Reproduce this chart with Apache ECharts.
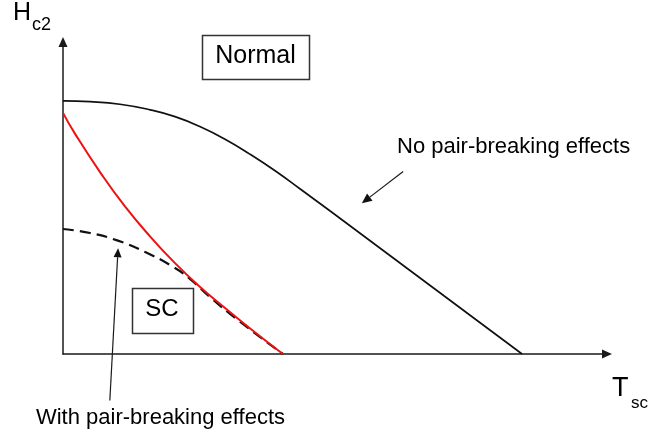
<!DOCTYPE html>
<html>
<head>
<meta charset="utf-8">
<script src="https://cdn.jsdelivr.net/npm/echarts@6/dist/echarts.min.js"></script>
<style>
  html, body { margin: 0; padding: 0; background: #ffffff; }
  #chart { width: 651px; height: 437px; }
</style>
</head>
<body>
<div id="chart"></div>
<script>
// Reduced temperature T / Tc0 and reduced upper critical field Hc2 / Hc2(0)
const noPairBreakingT = [0, 0.059, 0.124, 0.190, 0.244, 0.298, 0.353, 0.407, 0.462, 0.516, 0.582, 1.0];
const noPairBreakingH = [1.0, 0.997, 0.987, 0.965, 0.938, 0.899, 0.849, 0.790, 0.724, 0.653, 0.565, 0];

const pairBreakingT = [0, 0.026, 0.081, 0.135, 0.190, 0.244, 0.298, 0.353, 0.407, 0.479];
const pairBreakingH = [0.953, 0.871, 0.718, 0.583, 0.464, 0.359, 0.266, 0.182, 0.102, 0];

const reducedT = [0, 0.059, 0.118, 0.179, 0.240, 0.277, 0.320, 0.381, 0.479];
const reducedH = [0.494, 0.478, 0.449, 0.403, 0.344, 0.296, 0.225, 0.134, 0];

// Axis extents (the arrow heads sit past these)
const xMax = 1.185;
const yMax = 1.233;

// Annotation arrows, given as [from, to] in (T, H)
const arrowNoPair = [[0.741, 0.721], [0.651, 0.596]];
const arrowWithPair = [[0.102, -0.184], [0.120, 0.418]];

const zip = (xs, ys) => xs.map((x, i) => [x, ys[i]]);

const FONT = '"Liberation Sans", Arial, sans-serif';
const chart = echarts.init(document.getElementById('chart'), null, { renderer: 'canvas' });

const axisCommon = {
  type: 'value',
  min: 0,
  axisLine: {
    show: true,
    symbol: ['none', 'triangle'],
    symbolSize: [9, 10],
    lineStyle: { color: '#1a1a1a', width: 1.5 }
  },
  axisTick: { show: false },
  axisLabel: { show: false },
  splitLine: { show: false }
};

chart.setOption({
  animation: false,
  backgroundColor: '#ffffff',
  grid: { left: 63, right: 44, top: 42, bottom: 83 },
  xAxis: Object.assign({}, axisCommon, { max: xMax }),
  yAxis: Object.assign({}, axisCommon, { max: yMax }),
  series: [
    {
      name: 'No pair-breaking effects',
      type: 'line',
      data: zip(noPairBreakingT, noPairBreakingH),
      smooth: 0.5,
      symbol: 'none',
      lineStyle: { color: '#111111', width: 1.7 },
      z: 3
    },
    {
      name: 'Pair-breaking free limit',
      type: 'line',
      data: zip(reducedT, reducedH),
      smooth: 0.5,
      symbol: 'none',
      lineStyle: { color: '#111111', width: 2.2, type: [11, 6] },
      z: 3
    },
    {
      name: 'With pair-breaking effects',
      type: 'line',
      data: zip(pairBreakingT, pairBreakingH),
      smooth: 0.5,
      symbol: 'none',
      lineStyle: { color: '#ee1111', width: 2 },
      z: 4
    }
  ]
});

// Arrow (line + filled head) between two data points
function arrowGraphic(pair, headLen, headHalf) {
  const p0 = chart.convertToPixel({ gridIndex: 0 }, pair[0]);
  const p1 = chart.convertToPixel({ gridIndex: 0 }, pair[1]);
  const dx = p1[0] - p0[0], dy = p1[1] - p0[1];
  const len = Math.sqrt(dx * dx + dy * dy);
  const ux = dx / len, uy = dy / len;
  const bx = p1[0] - ux * headLen, by = p1[1] - uy * headLen;
  return [
    {
      type: 'line',
      shape: { x1: p0[0], y1: p0[1], x2: bx, y2: by },
      style: { stroke: '#1a1a1a', lineWidth: 1.2 },
      z: 10
    },
    {
      type: 'polygon',
      shape: { points: [[p1[0], p1[1]], [bx - uy * headHalf, by + ux * headHalf], [bx + uy * headHalf, by - ux * headHalf]] },
      style: { fill: '#111111' },
      z: 10
    }
  ];
}

function label(text, x, y, size, align) {
  return {
    type: 'text',
    x: x, y: y,
    style: { text: text, font: size + 'px ' + FONT, fill: '#000000', align: align || 'left', verticalAlign: 'middle' },
    z: 10
  };
}

function box(x, y, w, h) {
  return {
    type: 'rect',
    shape: { x: x, y: y, width: w, height: h },
    style: { fill: '#ffffff', stroke: '#333333', lineWidth: 1.5 },
    z: 9
  };
}

chart.setOption({
  graphic: [
    label('H', 13, 13, 25),
    label('c2', 32, 25.5, 18),
    label('T', 612, 389, 27),
    label('sc', 631, 403, 17),
    box(202.5, 35.5, 107, 44),
    label('Normal', 255.5, 56.5, 25, 'center'),
    box(132.5, 288.5, 61, 45),
    label('SC', 162, 309.5, 24, 'center'),
    label('No pair-breaking effects', 397, 146.5, 22),
    label('With pair-breaking effects', 285, 418, 22, 'right')
  ].concat(arrowGraphic(arrowNoPair, 10, 4.5), arrowGraphic(arrowWithPair, 9, 4))
});
</script>
</body>
</html>
